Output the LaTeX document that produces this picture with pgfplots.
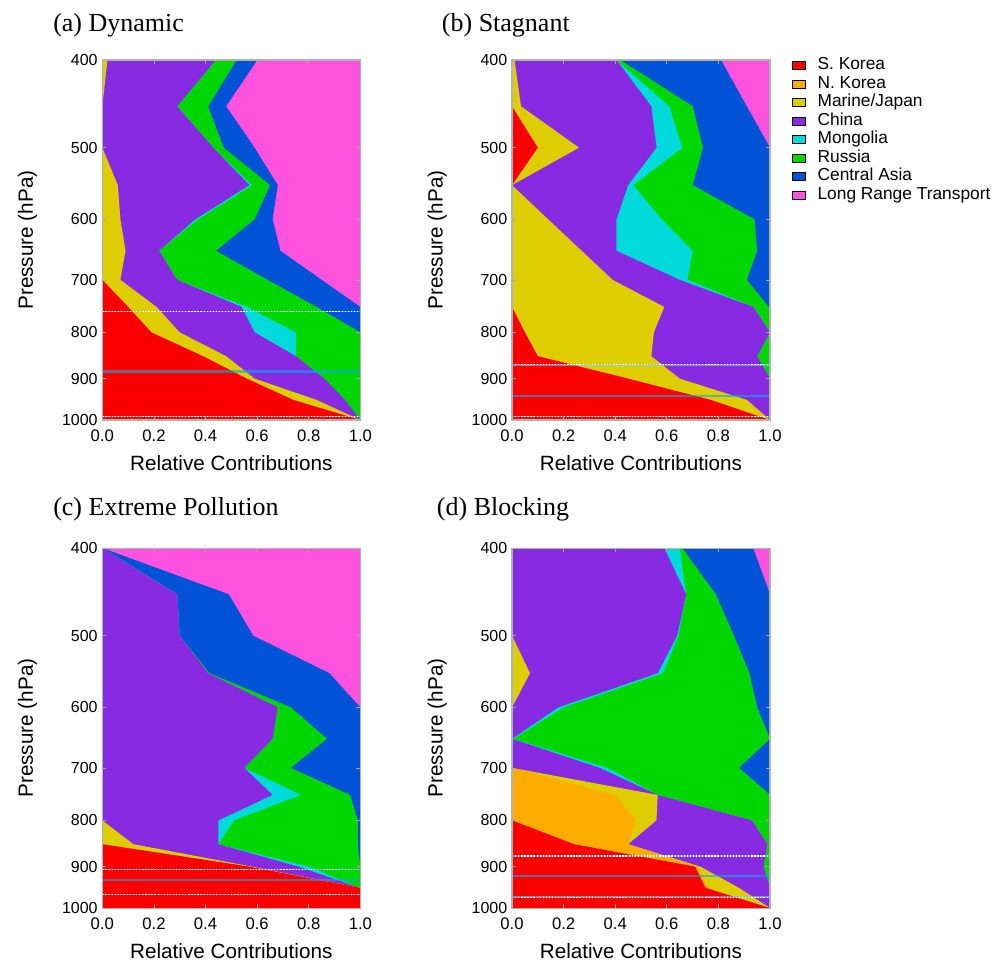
\documentclass[border=0pt]{standalone}
\usepackage{fontspec}
\setmainfont{Liberation Sans}
\newfontfamily\ttlfont{Liberation Serif}
\usepackage{pgfplots}
\usepackage{pgfplotstable}
\pgfplotsset{compat=1.18}

\definecolor{skred}{RGB}{250,0,0}
\definecolor{nkorange}{RGB}{255,172,0}
\definecolor{mjyellow}{RGB}{222,205,0}
\definecolor{chpurple}{RGB}{135,42,225}
\definecolor{mgcyan}{RGB}{0,218,218}
\definecolor{rugreen}{RGB}{0,214,0}
\definecolor{cablue}{RGB}{0,82,215}
\definecolor{lrmagenta}{RGB}{255,82,222}

% cumulative right edges: S.Korea, N.Korea, Marine/Japan, China, Mongolia, Russia, Central Asia
\pgfplotstableread{
p    c1   c2   c3    c4    c5    c6    c7
400  0    0    0.02  0.44  0.44  0.52  0.60
450  0    0    0.00  0.29  0.29  0.41  0.48
500  0    0    0.00  0.43  0.43  0.47  0.59
550  0    0    0.06  0.57  0.58  0.65  0.68
600  0    0    0.07  0.36  0.37  0.59  0.66
650  0    0    0.09  0.22  0.22  0.44  0.69
700  0    0    0.07  0.29  0.29  0.64  0.85
750  0.10 0.10 0.21  0.54  0.56  0.83  1.00
800  0.19 0.19 0.30  0.59  0.75  1.00  1.00
850  0.39 0.39 0.48  0.75  0.75  1.00  1.00
900  0.56 0.56 0.59  0.86  0.86  1.00  1.00
950  0.74 0.74 0.83  0.94  0.94  1.00  1.00
1000 1    1    1     1     1     1     1
}\dynamic

\pgfplotstableread{
p    c1   c2   c3    c4    c5    c6    c7
400  0    0    0.01  0.405 0.405 0.42  0.81
450  0    0    0.035 0.54  0.61  0.70  0.91
500  0.10 0.10 0.26  0.56  0.66  0.74  1.00
550  0    0    0.00  0.45  0.47  0.70  1.00
600  0    0    0.14  0.405 0.58  0.94  1.00
650  0    0    0.27  0.405 0.70  0.95  1.00
700  0    0    0.39  0.65  0.68  0.91  1.00
750  0    0    0.59  0.935 0.935 0.995 1.00
800  0.05 0.05 0.55  1.00  1.00  1.00  1.00
850  0.10 0.10 0.54  0.95  0.95  1.00  1.00
900  0.45 0.45 0.65  1.00  1.00  1.00  1.00
950  0.77 0.77 0.91  1.00  1.00  1.00  1.00
1000 1    1    1     1     1     1     1
}\stagnant

\pgfplotstableread{
p    c1   c2   c3    c4    c5    c6    c7
400  0    0    0     0     0     0     0
450  0    0    0     0.29  0.29  0.29  0.49
500  0    0    0     0.30  0.30  0.30  0.585
550  0    0    0     0.41  0.41  0.415 0.88
600  0    0    0     0.68  0.68  0.73  1.00
650  0    0    0     0.66  0.66  0.87  1.00
700  0    0    0     0.55  0.55  0.73  1.00
750  0    0    0     0.66  0.77  0.96  1.00
800  0    0    0     0.45  0.51  0.99  1.00
850  0    0    0.12  0.45  0.45  0.99  1.00
900  0.57 0.57 0.58  0.76  0.80  1.00  1.00
950  1    1    1     1     1     1     1
1000 1    1    1     1     1     1     1
}\extreme

\pgfplotstableread{
p    c1   c2   c3    c4    c5    c6    c7
400  0    0    0     0.59  0.65  0.66  0.935
450  0    0    0     0.675 0.675 0.79  1.00
500  0    0    0     0.64  0.645 0.86  1.00
550  0    0    0.07  0.565 0.585 0.92  1.00
600  0    0    0     0.18  0.20  0.95  1.00
650  0    0    0     0.00  0.005 1.00  1.00
700  0    0    0     0.34  0.37  0.88  1.00
750  0    0.40 0.565 0.565 0.565 1.00  1.00
800  0    0.48 0.56  0.93  0.93  1.00  1.00
850  0.24 0.45 0.45  0.99  0.99  1.00  1.00
900  0.71 0.72 0.73  0.975 0.975 1.00  1.00
950  0.75 0.76 0.88  1.00  1.00  1.00  1.00
1000 1    1    1     1     1     1     1
}\blocking

\pgfplotsset{
  every axis/.append style={
    scale only axis, width=193.5pt, height=270pt, anchor=south west,
    xmin=0, xmax=1, ymin=400, ymax=1000, y dir=reverse,
    xtick={0,0.2,0.4,0.6,0.8,1}, xticklabels={0.0,0.2,0.4,0.6,0.8,1.0},
    ytick={400,500,600,700,800,900,1000},
    yticklabels={400,500,600,700,800,900,1000},
    tick align=inside, major tick length=3pt,
    tick style={gray!70, line width=0.5pt},
    axis line style={gray!60, line width=0.8pt},
    axis on top,
    axis background/.style={fill=lrmagenta},
    xlabel={Relative Contributions}, ylabel={Pressure (hPa)},
    xlabel style={at={(axis description cs:0.5,-0.14)}, anchor=base,
      font=\fontsize{15.5}{18}\selectfont},
    ylabel style={at={(axis description cs:-0.29,0.5)}, anchor=center,
      font=\fontsize{15.5}{18}\selectfont},
    xticklabel style={font=\fontsize{12.5}{14}\selectfont, yshift=-4pt},
    yticklabel style={font=\fontsize{12}{14}\selectfont},
  },
  myband/.style={forget plot, draw=none},
  bldash/.style={forget plot, cyan!55!white, opacity=0.6, line width=1.2pt},
  bldots/.style={forget plot, white, line width=0.8pt, dash pattern=on 1pt off 1.3pt},
  blsolid/.style={forget plot, cyan, opacity=0.6, line width=1.8pt},
}

% paint from the right-most boundary down to S. Korea
\newcommand\bands[1]{%
  \addplot[myband, fill=cablue]    table[x=c7,y=p]{#1} -- (0,1000) -- (0,400) -- cycle;
  \addplot[myband, fill=rugreen]   table[x=c6,y=p]{#1} -- (0,1000) -- (0,400) -- cycle;
  \addplot[myband, fill=mgcyan]    table[x=c5,y=p]{#1} -- (0,1000) -- (0,400) -- cycle;
  \addplot[myband, fill=chpurple]  table[x=c4,y=p]{#1} -- (0,1000) -- (0,400) -- cycle;
  \addplot[myband, fill=mjyellow]  table[x=c3,y=p]{#1} -- (0,1000) -- (0,400) -- cycle;
  \addplot[myband, fill=nkorange]  table[x=c2,y=p]{#1} -- (0,1000) -- (0,400) -- cycle;
  \addplot[myband, fill=skred]     table[x=c1,y=p]{#1} -- (0,1000) -- (0,400) -- cycle;
}
% boundary layer heights: dotted, solid, dotted
\newcommand\levels[3]{%
  \addplot[bldash]  coordinates {(0,#1)(1,#1)};
  \addplot[bldots]  coordinates {(0,#1)(1,#1)};
  \addplot[blsolid] coordinates {(0,#2)(1,#2)};
  \addplot[bldash]  coordinates {(0,#3)(1,#3)};
  \addplot[bldots]  coordinates {(0,#3)(1,#3)};
}

\begin{document}
\begin{tikzpicture}
\useasboundingbox (0,0) rectangle (754.5pt,722.25pt);

% (a) Dynamic
\begin{semilogyaxis}[at={(76.75pt,407.25pt)}]
  \bands{\dynamic}
  \levels{759}{884}{991}
\end{semilogyaxis}

% (b) Stagnant
\begin{semilogyaxis}[at={(384pt,407.25pt)},
  legend image code/.code={\fill[#1] (0pt,-3pt) rectangle (9.75pt,3pt);},
  legend style={at={(axis description cs:1.085,1.012)}, anchor=north west,
    draw=none, fill=none, font=\fontsize{13}{14}\selectfont,
    row sep=0pt, inner sep=0pt,
    nodes={inner sep=0.9pt, text height=9.4pt, text depth=2.7pt},
    /tikz/every odd column/.append style={column sep=8pt}},
  legend cell align=left]
  \addlegendimage{fill=skred}     \addlegendentry{S. Korea}
  \addlegendimage{fill=nkorange}  \addlegendentry{N. Korea}
  \addlegendimage{fill=mjyellow}  \addlegendentry{Marine/Japan}
  \addlegendimage{fill=chpurple}  \addlegendentry{China}
  \addlegendimage{fill=mgcyan}    \addlegendentry{Mongolia}
  \addlegendimage{fill=rugreen}   \addlegendentry{Russia}
  \addlegendimage{fill=cablue}    \addlegendentry{Central Asia}
  \addlegendimage{fill=lrmagenta} \addlegendentry{Long Range Transport}
  \bands{\stagnant}
  \levels{869}{940}{991}
\end{semilogyaxis}

% (c) Extreme Pollution
\begin{semilogyaxis}[at={(76.75pt,41.25pt)}]
  \bands{\extreme}
  \levels{907}{931}{966}
\end{semilogyaxis}

% (d) Blocking
\begin{semilogyaxis}[at={(384pt,41.25pt)}]
  \bands{\blocking}
  \levels{876}{922}{973}
\end{semilogyaxis}

\begin{scope}[every node/.style={anchor=base west, inner sep=0pt,
    font=\ttlfont\fontsize{19.5}{22}\selectfont}]
  \node at (39.75pt,698.6pt) {(a) Dynamic};
  \node at (331.25pt,698.6pt) {(b) Stagnant};
  \node at (39.75pt,335.5pt) {(c) Extreme Pollution};
  \node at (327.5pt,335.5pt) {(d) Blocking};
\end{scope}
\end{tikzpicture}
\end{document}
